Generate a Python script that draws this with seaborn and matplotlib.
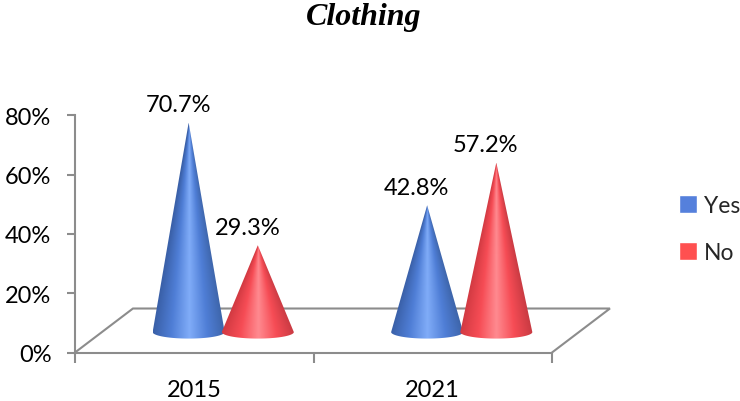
import numpy as np
import pandas as pd
import seaborn as sns
import matplotlib
matplotlib.use("Agg")
import matplotlib.pyplot as plt
from matplotlib.colors import LinearSegmentedColormap
from matplotlib.path import Path
from matplotlib.patches import PathPatch

years = ["2015", "2021"]
yes_values = [70.7, 42.8]
no_values = [29.3, 57.2]
series_names = ["Yes", "No"]
chart_title = "Clothing"

GREY = "#8c8c8c"
LEGEND_COLOURS = {"Yes": "#5580dc", "No": "#ff5050"}
SHADES = {
    "Yes": ["#3a60a8", "#4f7ed6", "#80acf8", "#4f7ed6", "#3d64a8"],
    "No": ["#d23a42", "#f64c55", "#ff8a90", "#f64c55", "#c83a42"],
}

# Floor depth of the pseudo-3D plot, in data units
DEPTH_X = 0.243
DEPTH_Y = 14.85

sns.set_theme(style="white")
plt.rcParams["font.family"] = ["Lato", "DejaVu Sans"]

df = pd.DataFrame({
    "year": years * 2,
    "answer": [series_names[0]] * 2 + [series_names[1]] * 2,
    "share": yes_values + no_values,
})

fig = plt.figure(figsize=(7.40, 4.02), dpi=100)
ax = fig.add_axes([75 / 740, 1 - 353.5 / 402, (552 - 75) / 740, (353.5 - 116.5) / 402])

sns.barplot(data=df, x="year", y="share", hue="answer", hue_order=series_names,
            palette=LEGEND_COLOURS, saturation=1, width=0.58, gap=0, ax=ax, legend=True)

ax.set_xlabel("")
ax.set_ylabel("")


def draw_cone(bar, name):
    """Replace a flat bar with a shaded cone standing mid-way back on the floor."""
    height = bar.get_height()
    xc = bar.get_x() + bar.get_width() / 2 + DEPTH_X / 2
    base = 6.9
    half = 0.151
    minor = 2.2  # half-height of the base ellipse
    apex = base + height

    theta = np.linspace(0, np.pi, 60)
    outline = [(xc, apex), (xc - half, base)]
    outline += [(xc - half * np.cos(t), base - minor * np.sin(t)) for t in theta]
    outline += [(xc, apex)]
    path = Path(outline, closed=False)

    xs = np.linspace(-half, half, 240)
    ys = np.linspace(apex, base - minor, 320)
    gx, gy = np.meshgrid(xs, ys)
    local = np.clip((apex - gy) / height, 0.004, 1) * half
    frac = np.clip(gx / local, -1, 1) * 0.5 + 0.5
    cmap = LinearSegmentedColormap.from_list(name, SHADES[name])
    img = ax.imshow(frac, cmap=cmap, vmin=0, vmax=1, aspect="auto", zorder=4,
                    extent=[xc - half, xc + half, base - minor, apex],
                    interpolation="bilinear")
    clip = PathPatch(path, transform=ax.transData, fc="none", ec="none")
    ax.add_patch(clip)
    img.set_clip_path(clip)
    ax.annotate(f"{height:.1f}%", xy=(xc, apex), xytext=(-7.5, 13),
                textcoords="offset points", ha="center", va="center",
                fontsize=17, color="black", zorder=6, annotation_clip=False)


for container, name in zip(ax.containers, series_names):
    for bar in container:
        bar.set_visible(False)
        draw_cone(bar, name)

ax.set_xlim(-0.5, 1.5)
ax.set_ylim(0, 80)

# Floor outline
floor_x = [-0.5, -0.5 + DEPTH_X, 1.5 + DEPTH_X, 1.5]
floor_y = [0, DEPTH_Y, DEPTH_Y, 0]
ax.plot(floor_x, floor_y, color=GREY, lw=1.5, clip_on=False, zorder=1,
        solid_joinstyle="miter")

sns.despine(ax=ax)
for side in ("left", "bottom"):
    ax.spines[side].set_color(GREY)
    ax.spines[side].set_linewidth(1.5)

ax.set_yticks([0, 20, 40, 60, 80])
ax.set_yticklabels(["0%", "20%", "40%", "60%", "80%"])
ax.set_xticks([-0.5, 0.5, 1.5])
ax.set_xticklabels(["", "", ""])
ax.set_xticks([0, 1], minor=True)
ax.set_xticklabels(years, minor=True)
ax.tick_params(axis="y", length=6, width=1.5, color=GREY, pad=11, left=True,
               labelsize=17, labelcolor="black")
ax.tick_params(axis="x", which="major", length=7, width=1.5, color=GREY, bottom=True)
ax.tick_params(axis="x", which="minor", length=0, pad=19, labelsize=17,
               labelcolor="black")

sns.move_legend(ax, loc="center left", bbox_to_anchor=(679 / 740, 1 - 230 / 402),
                bbox_transform=fig.transFigure, title=None, frameon=False,
                fontsize=16.5, handlelength=0.8, handleheight=0.8,
                handletextpad=0.3, labelspacing=1.15, borderpad=0, borderaxespad=0)

fig.text(364 / 740, 1 - 17 / 402, chart_title, ha="center", va="center",
         family="Liberation Serif", style="italic", weight="bold", fontsize=23,
         color="black")

fig.savefig("out.png", dpi=100, facecolor="white")
